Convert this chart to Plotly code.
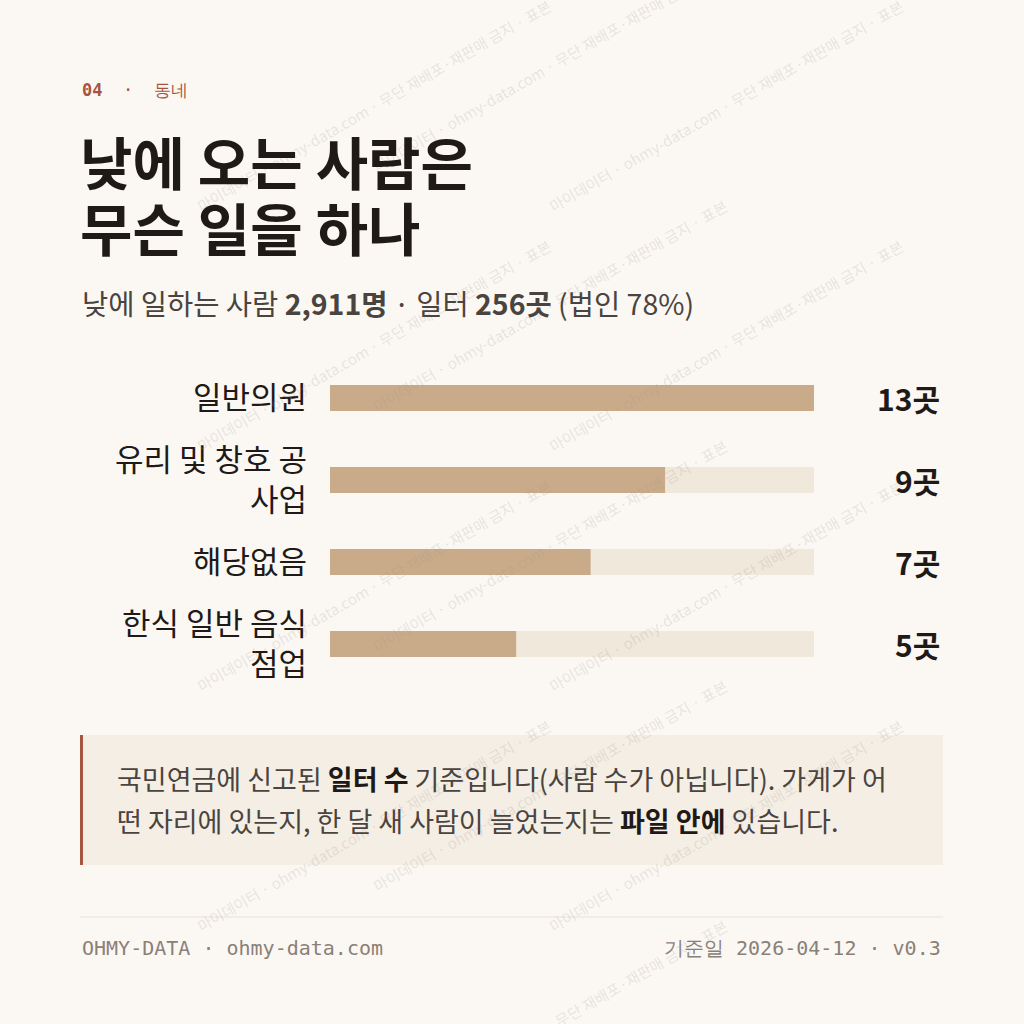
import plotly.graph_objects as go

categories = ["일반의원", "유리 및 창호 공<br>사업", "해당없음", "한식 일반 음식<br>점업"]
values = [13, 9, 7, 5]
value_labels = ["13곳", "9곳", "7곳", "5곳"]
max_val = 13

W = H = 1024
F = "Noto Sans CJK KR"
MONO = "DejaVu Sans Mono"
BG = "#fbf8f4"

def py(p):
    return 1 - p / H
def px(p):
    return p / W

fig = go.Figure()
fig.add_trace(go.Bar(y=categories, x=[max_val]*len(values), orientation="h",
                     marker=dict(color="#f1e8dc", line_width=0), width=0.32,
                     hoverinfo="skip", showlegend=False))
fig.add_trace(go.Bar(y=categories, x=values, orientation="h",
                     marker=dict(color="#c9ab89", line_width=0), width=0.32,
                     showlegend=False))

ann = []
shapes = []
wm = "마이데이터 · ohmy-data.com · 무단 재배포·재판매 금지 · 표본"
for cx in [0, 360, 720]:
    off = 200 if cx == 360 else 0
    for k in range(-1, 4):
        y0 = 215 + 240 * k + off
        ann.append(dict(x=px(cx + 190), y=py(y0 - 110), text=wm, textangle=-30,
                        font=dict(family=F, size=15, color="rgba(160,150,140,0.22)")))

main = [
    dict(x=px(80), y=py(90), text="<b>04</b>  ·  동네", font=dict(family=MONO, size=17, color="#a65540")),
    dict(x=px(78), y=py(160), text="<b>낮에 오는 사람은</b>", font=dict(family=F, size=57, color="#1f1a17")),
    dict(x=px(78), y=py(226), text="<b>무슨 일을 하나</b>", font=dict(family=F, size=57, color="#1f1a17")),
    dict(x=px(80), y=py(302), text="낮에 일하는 사람 <b>2,911명</b> · 일터 <b>256곳</b> (법인 78%)",
         font=dict(family=F, size=28.5, color="#4a4440")),
    dict(x=px(115), y=py(778), text="국민연금에 신고된 <b style='color:#1f1a17'>일터 수</b> 기준입니다(사람 수가 아닙니다). 가게가 어",
         font=dict(family=F, size=27, color="#4a4440")),
    dict(x=px(115), y=py(820), text="떤 자리에 있는지, 한 달 새 사람이 늘었는지는 <b style='color:#1f1a17'>파일 안에</b> 있습니다.",
         font=dict(family=F, size=27, color="#4a4440")),
    dict(x=px(80), y=py(948), text="OHMY-DATA · ohmy-data.com", font=dict(family=MONO, size=20, color="#8a8078")),
    dict(x=px(943), y=py(948), xanchor="right", text="기준일 2026-04-12 · v0.3", font=dict(family=MONO, size=20, color="#8a8078")),
]
for a in main:
    a.setdefault("xanchor", "left")
ann += main
for a in ann:
    a.update(xref="paper", yref="paper", showarrow=False)
    a.setdefault("yanchor", "middle")

for c, lab in zip(categories, value_labels):
    ann.append(dict(x=px(942), xref="paper", y=c, yref="y", text=f"<b>{lab}</b>", showarrow=False,
                    xanchor="right", font=dict(family=F, size=30, color="#1f1a17")))

shapes += [
    dict(type="rect", xref="paper", yref="paper", x0=px(80), x1=px(943), y0=py(865), y1=py(735),
         fillcolor="#f5eee5", line_width=0, layer="below"),
    dict(type="rect", xref="paper", yref="paper", x0=px(80), x1=px(83), y0=py(865), y1=py(735),
         fillcolor="#a65540", line_width=0),
    dict(type="line", xref="paper", yref="paper", x0=px(80), x1=px(943), y0=py(917), y1=py(917),
         line=dict(color="#e6e0d8", width=1)),
]

fig.update_layout(
    width=W, height=H, margin=dict(l=0, r=0, t=0, b=0),
    paper_bgcolor=BG, plot_bgcolor=BG, barmode="overlay",
    xaxis=dict(domain=[px(330), px(814)], range=[0, max_val], visible=False, fixedrange=True),
    yaxis=dict(domain=[py(685), py(357)], autorange="reversed", showgrid=False, zeroline=False,
               showline=False, ticks="", ticklabelstandoff=22,
               tickfont=dict(family=F, size=31, color="#1f1a17")),
    annotations=ann, shapes=shapes,
)
fig.write_html("out.html", config={"displayModeBar": False})
with open("out.html", encoding="utf-8") as f:
    html = f.read()
html = html.replace("<head>", "<head><style>html,body{margin:0;padding:0;background:#fbf8f4;}</style>", 1)
with open("out.html", "w", encoding="utf-8") as f:
    f.write(html)
